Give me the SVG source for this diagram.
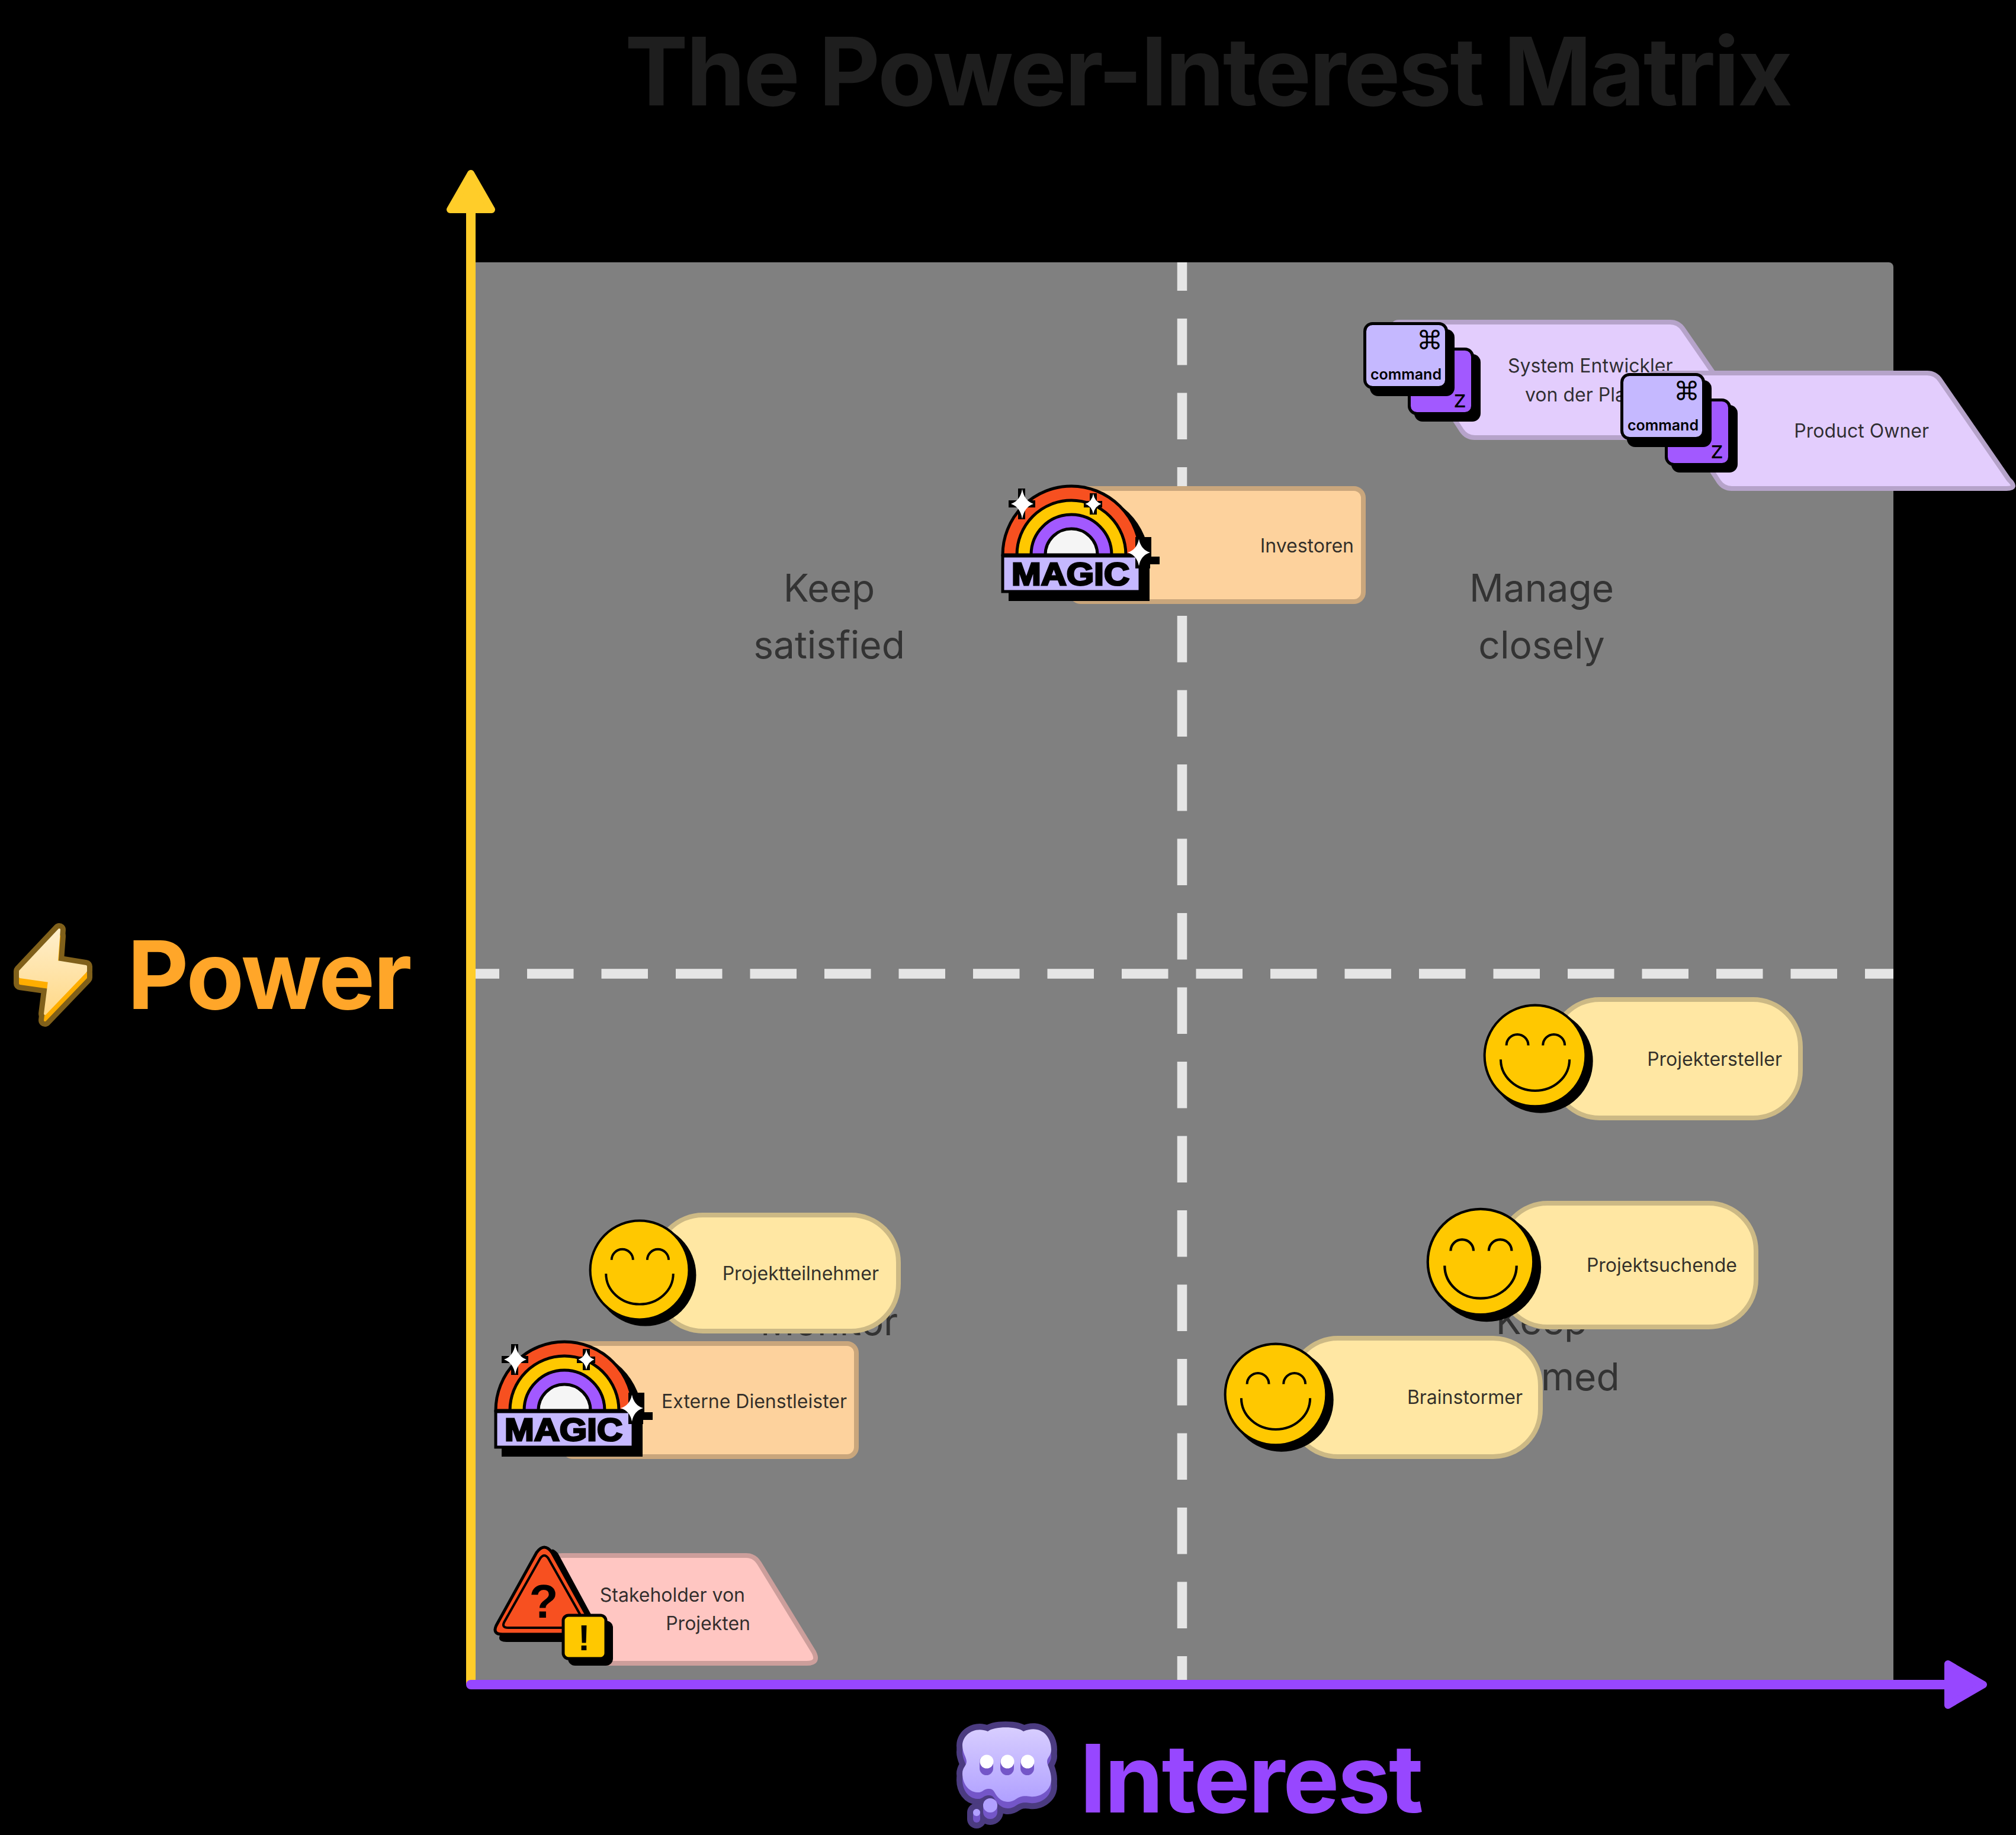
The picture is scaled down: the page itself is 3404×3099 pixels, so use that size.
<svg xmlns="http://www.w3.org/2000/svg" xmlns:xlink="http://www.w3.org/1999/xlink" width="3404" height="3099" viewBox="0 0 3404 3099">
<style>
.t{font-family:Inter,"Liberation Sans",sans-serif;font-size:32px;fill:#1e1e1e;fill-opacity:.93}
.q{font-family:Inter,"Liberation Sans",sans-serif;font-size:64px;fill:#333;text-anchor:middle}
.h{font-family:Inter,"Liberation Sans",sans-serif;font-weight:700;font-size:160px;letter-spacing:-3px}
.e{text-anchor:end}
.yel{fill:#FFE7A3;stroke:#CCB985;stroke-width:8}
.pea{fill:#FDD29D;stroke:#C9A67C;stroke-width:8}
.lav{fill:#E3CDFD;stroke:#B6A3CA;stroke-width:8}
.pin{fill:#FFC6C2;stroke:#CC9E9B;stroke-width:8}
.k{stroke:#000;stroke-width:5}
.b{fill:#000}
.ln{fill:none;stroke:#000;stroke-width:4.6;stroke-linecap:butt}
.dash{stroke:#E5E5E5;stroke-width:16.5;stroke-dasharray:78.5 47;stroke-dashoffset:30.5;fill:none}
</style>
<defs>
<linearGradient id="gb" x1="0" y1="0" x2="0" y2="1"><stop offset="0" stop-color="#FFEFCB"/><stop offset="1" stop-color="#FFD887"/></linearGradient>
<linearGradient id="gc" x1="0" y1="0" x2="0" y2="1"><stop offset="0" stop-color="#D8CEFF"/><stop offset="1" stop-color="#B0A0FF"/></linearGradient>
<path id="boltp" d="M100,1570 L96,1624 L145,1632 L145,1640 L76,1712 L83,1657 L34,1650 L34,1640 Z"/>
<path id="cloudp" d="M1668,2924 C1678,2915 1718,2915 1728,2924 C1755,2912 1775,2930 1775,2955 C1775,2965 1768,2968 1768,2975 C1768,2982 1775,2990 1775,3005 C1775,3025 1755,3036 1740,3034 C1728,3032 1722,3034 1716,3038 C1705,3046 1692,3044 1684,3034 C1678,3026 1678,3020 1668,3021 C1660,3022 1658,3028 1650,3027 C1635,3026 1625,3012 1625,2995 C1625,2985 1632,2982 1632,2975 C1632,2968 1625,2960 1625,2948 C1625,2930 1645,2915 1668,2924 Z"/>
<path id="star" d="M0,-24Q3.5,-5 20,0Q3.5,5 0,24Q-3.5,5 -20,0Q-3.5,-5 0,-24Z" fill="#fff"/>
<g id="smile">
<circle cx="11" cy="10" r="100" class="b"/>
<circle r="97" fill="#FFC800" stroke="#000" stroke-width="4.6"/>
<path class="ln" d="M-55,-20 A21,21 0 0 1 -13,-20 M15,-20 A21,21 0 0 1 57,-20 M-66,7 A66,60 0 0 0 66,7"/>
</g>
<g id="magic">
<path class="b" d="M1703,1015 V950 A119,119 0 0 1 1941,950 V1015 Z"/>
<path fill="#F75020" class="k" d="M1693,937 A116,116 0 0 1 1925,937 Z"/>
<path fill="#FFC800" class="k" d="M1717,937 A92,92 0 0 1 1901,937 Z"/>
<path fill="#A259FF" class="k" d="M1741,937 A68,68 0 0 1 1877,937 Z"/>
<path fill="#F5F5F5" class="k" d="M1765,937 A44,44 0 0 1 1853,937 Z"/>
<rect x="1693" y="939" width="232" height="60" fill="#C5B8FF" stroke="#000" stroke-width="5"/>
<text x="1708" y="988" font-family="'Liberation Sans',sans-serif" font-weight="700" font-size="54" textLength="199" lengthAdjust="spacingAndGlyphs" stroke="#000" stroke-width="3" fill="#000">MAGIC</text>
<path class="b" d="M1703,845H1719V825H1731V845H1748V857H1731V877H1719V857H1703Z"/>
<use xlink:href="#star" href="#star" transform="translate(1726,851) scale(.95,1.05)"/>
<path class="b" d="M1830,846H1840V833H1852V846H1861V857H1852V869H1840V857H1830Z"/>
<use xlink:href="#star" href="#star" transform="translate(1846,851) scale(.68,.72)"/>
<path class="b" d="M1917,907H1944V940H1958V953H1942V960H1917Z"/>
<use xlink:href="#star" href="#star" transform="translate(1923,933) scale(.95,.95)"/>
</g>
<g id="keys">
<rect x="2822" y="684" width="112" height="114" rx="14" class="b"/>
<rect x="2813.5" y="675.5" width="107" height="109" rx="13" fill="#A259FF" class="k"/>
<text x="2910" y="774" font-family="Inter,sans-serif" font-size="40" text-anchor="end" fill="#000">z</text>
<rect x="2747" y="642" width="143" height="113" rx="14" class="b"/>
<rect x="2738.5" y="632.5" width="138" height="108" rx="13" fill="#C5B8FF" class="k"/>
<text x="2870" y="676" font-family="'DejaVu Sans',sans-serif" font-size="44" text-anchor="end" fill="#000">⌘</text>
<text x="2868" y="727" font-family="Inter,sans-serif" font-size="25" font-weight="600" text-anchor="end" fill="#000">command</text>
</g>
<path id="para" d="M2797,630 H3254 Q3268,630 3276,642 L3392,810 Q3408,825 3388,825 H2924 Q2910,825 2902,813 L2791,642 Q2783,630 2797,630 Z"/>
</defs>
<rect width="3404" height="3099" fill="#000"/>
<text id="title" class="h" x="1055" y="178" fill="#1E1E1E">The Power-Interest Matrix</text>
<rect id="matrix" x="795" y="443" width="2402" height="2402" rx="8" fill="#808080"/>
<g id="quadrant-labels">
<text class="q" x="1400" y="1016">Keep</text><text class="q" x="1400" y="1112">satisfied</text>
<text class="q" x="2603" y="1016">Manage</text><text class="q" x="2603" y="1112">closely</text>
<text class="q" x="1400" y="2255">Monitor</text>
<text class="q" x="2603" y="2253">Keep</text><text class="q" x="2599" y="2348">informed</text>
</g>
<g id="connectors">
<line class="dash" x1="795" y1="1644.5" x2="3197" y2="1644.5"/>
<line class="dash" x1="1996" y1="443" x2="1996" y2="2845"/>
<path d="M795,2845 V352" stroke="#FFCD29" stroke-width="16" fill="none"/>
<path d="M795,293 L830,354 H760 Z" fill="#FFCD29" stroke="#FFCD29" stroke-width="12" stroke-linejoin="round"/>
<path d="M795,2845 H3290" stroke="#9747FF" stroke-width="16" stroke-linecap="round" fill="none"/>
<path d="M3349,2845 L3289,2810 V2880 Z" fill="#9747FF" stroke="#9747FF" stroke-width="12" stroke-linejoin="round"/>
</g>
<g id="power">
<g stroke="#80601A" stroke-width="22" stroke-linejoin="round">
<use xlink:href="#boltp" href="#boltp"/>
<use xlink:href="#boltp" href="#boltp" transform="translate(0,11)"/>
</g>
<use xlink:href="#boltp" href="#boltp" transform="translate(0,11)" fill="#FFAE00" stroke="#FFAE00" stroke-width="4" stroke-linejoin="round"/>
<use xlink:href="#boltp" href="#boltp" fill="url(#gb)" stroke="url(#gb)" stroke-width="4" stroke-linejoin="round"/>
<text class="h" x="215" y="1704" fill="#FFA629">Power</text>
</g>
<g id="interest">
<g fill="#4B3B80" stroke="#4B3B80" stroke-width="20" stroke-linejoin="round">
<use xlink:href="#cloudp" href="#cloudp"/>
<use xlink:href="#cloudp" href="#cloudp" transform="translate(0,11)"/>
<rect x="1660" y="3037" width="24" height="35" rx="12"/>
<rect x="1643" y="3055" width="12" height="23" rx="6"/>
</g>
<use xlink:href="#cloudp" href="#cloudp" transform="translate(0,11)" fill="#7456C8"/>
<use xlink:href="#cloudp" href="#cloudp" fill="url(#gc)"/>
<g fill="#7456C8"><rect x="1654" y="2964" width="23" height="34" rx="11.5"/><rect x="1689" y="2964" width="23" height="34" rx="11.5"/><rect x="1723" y="2964" width="23" height="34" rx="11.5"/><rect x="1660" y="3037" width="24" height="35" rx="12"/><rect x="1643" y="3055" width="12" height="23" rx="6"/></g>
<g fill="#fff"><circle cx="1666" cy="2975" r="11.5"/><circle cx="1701" cy="2975" r="11.5"/><circle cx="1735" cy="2975" r="11.5"/></g>
<g fill="#B1A0FF"><circle cx="1672" cy="3049" r="12"/><circle cx="1649" cy="3061" r="6"/></g>
<text class="h" x="1823" y="3061" fill="#9747FF" letter-spacing="-2.5">Interest</text>
</g>
<g id="node-system">
<use xlink:href="#para" href="#para" class="lav" transform="translate(-434,-86)"/>
<text class="t" x="2546" y="629">System Entwickler</text>
<text class="t" x="2575" y="678">von der Plattform</text>
<use xlink:href="#keys" href="#keys" transform="translate(-434,-86)"/>
</g>
<g id="node-product-owner">
<use xlink:href="#para" href="#para" class="lav"/>
<text class="t e" x="3257" y="739">Product Owner</text>
<use xlink:href="#keys" href="#keys"/>
</g>
<g id="node-investoren">
<rect class="pea" x="1809" y="825" width="493" height="191" rx="16"/>
<text class="t e" x="2286" y="933">Investoren</text>
<use xlink:href="#magic" href="#magic"/>
</g>
<g id="node-projektersteller">
<rect class="yel" x="2621" y="1688" width="419" height="200" rx="80"/>
<text class="t e" x="3009" y="1800">Projektersteller</text>
<use xlink:href="#smile" href="#smile" transform="translate(2592,1783) scale(.88)"/>
</g>
<g id="node-projektsuchende">
<rect class="yel" x="2533" y="2032" width="432" height="209" rx="80"/>
<text class="t e" x="2933" y="2148">Projektsuchende</text>
<use xlink:href="#smile" href="#smile" transform="translate(2500,2131) scale(.92)"/>
</g>
<g id="node-brainstormer">
<rect class="yel" x="2179" y="2260" width="422" height="200" rx="80"/>
<text class="t e" x="2571" y="2371">Brainstormer</text>
<use xlink:href="#smile" href="#smile" transform="translate(2154,2355) scale(.88)"/>
</g>
<g id="node-projektteilnehmer">
<rect class="yel" x="1107" y="2052" width="410" height="196" rx="80"/>
<text class="t e" x="1484" y="2162">Projektteilnehmer</text>
<use xlink:href="#smile" href="#smile" transform="translate(1080,2145) scale(.86)"/>
</g>
<g id="node-externe">
<rect class="pea" x="952" y="2269" width="494" height="191" rx="16"/>
<text class="t e" x="1430" y="2378">Externe Dienstleister</text>
<use xlink:href="#magic" href="#magic" transform="translate(-856,1445)"/>
</g>
<g id="node-stakeholder">
<path class="pin" d="M950,2627 H1260 Q1274,2627 1282,2640 L1374,2790 Q1384,2809 1362,2809 H1000 Q990,2809 984,2795 L935,2640 Q930,2627 950,2627 Z"/>
<text class="t e" x="1258" y="2705">Stakeholder von</text>
<text class="t e" x="1267" y="2753">Projekten</text>
<path class="b" d="M930,2623 L845,2760 Q838,2773 855,2773 H1005 Q1022,2773 1015,2758 L942,2623 Q930,2610 930,2623 Z"/>
<path fill="#F75020" stroke="#000" stroke-width="5" stroke-linejoin="round" d="M906,2622 Q919,2604 932,2622 L1000,2745 Q1007,2760 990,2760 H848 Q831,2760 838,2745 Z"/>
<path fill="none" stroke="#000" stroke-width="4" d="M912,2632 Q919,2622 926,2632 L987,2740 Q991,2749 980,2749 H858 Q847,2749 851,2740 Z"/>
<text x="918" y="2732" font-family="'Liberation Sans',sans-serif" font-weight="700" font-size="80" text-anchor="middle" fill="#000">?</text>
<rect x="959" y="2737" width="76" height="76" rx="12" class="b"/>
<rect x="951" y="2728" width="72" height="73" rx="9" fill="#FFC800" class="k"/>
<text x="986" y="2787" font-family="'Liberation Sans',sans-serif" font-weight="700" font-size="62" text-anchor="middle" fill="#000">!</text>
</g>
</svg>
